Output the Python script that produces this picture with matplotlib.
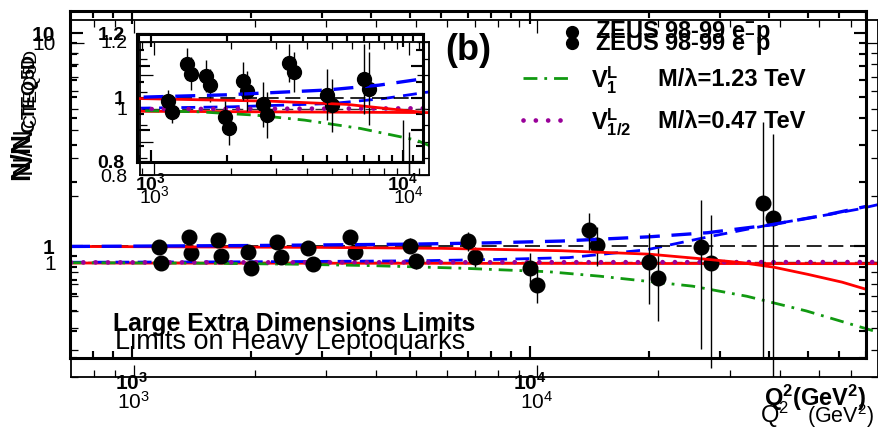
import matplotlib
matplotlib.use('Agg')
import matplotlib.pyplot as plt
import numpy as np
from matplotlib.ticker import FixedLocator, FixedFormatter, NullFormatter

plt.rcParams['font.family'] = ['Liberation Sans', 'DejaVu Sans']
plt.rcParams['mathtext.fontset'] = 'custom'
plt.rcParams['mathtext.rm'] = 'Liberation Sans'
plt.rcParams['mathtext.bf'] = 'Liberation Sans:bold'
plt.rcParams['mathtext.it'] = 'Liberation Sans:italic'
plt.rcParams['mathtext.sf'] = 'Liberation Sans'

# ---------------- data (ZEUS 98-99 e-p, ratio to CTEQ5D) ----------------
q2 = [1170, 1390, 1650, 1960, 2320, 2780, 3530, 5000, 7000, 10000, 14100, 19900, 27000, 38500]
ratio = [0.99, 1.105, 1.07, 0.94, 1.053, 0.98, 1.11, 1.01, 1.06, 0.79, 1.20, 0.85, 0.99, 1.59]
err_up = [0.035, 0.05, 0.05, 0.05, 0.06, 0.07, 0.06, 0.08, 0.11, 0.14, 0.24, 0.31, 0.66, 2.25]
err_dn = [0.035, 0.05, 0.05, 0.05, 0.06, 0.07, 0.06, 0.08, 0.11, 0.14, 0.24, 0.31, 0.66, 1.58]

# ---------------- theory curves, layer A (Large Extra Dimensions) ----------------
ref_q2 = [700, 70000]
ref_val = [1.0, 1.0]
red_a_q2 = [700, 3000, 6000, 12000, 20000, 28000, 34000, 41000, 50000, 61000, 70000]
red_a_val = [1.0, 0.99, 0.98, 0.955, 0.92, 0.87, 0.84, 0.80, 0.74, 0.68, 0.63]
blue_a_q2 = [700, 2000, 5000, 8000, 12000, 20000, 28000, 40000, 55000, 70000]
blue_a_val = [1.0, 1.01, 1.025, 1.04, 1.06, 1.11, 1.16, 1.26, 1.40, 1.54]

# ---------------- theory curves, layer B (Heavy Leptoquarks) ----------------
red_b_q2 = [700, 10000, 70000]
red_b_val = [0.992, 0.988, 0.985]
blue_b_q2 = [700, 2000, 5000, 8000, 12000, 18700, 26300, 38400, 50000, 62000, 70000]
blue_b_val = [1.0, 1.005, 1.015, 1.03, 1.05, 1.14, 1.30, 1.49, 1.62, 1.74, 1.83]
green_q2 = [700, 1500, 2500, 3900, 6450, 10700, 14300, 24300, 33100, 46500, 70000]
green_val = [0.995, 0.99, 0.98, 0.965, 0.94, 0.905, 0.864, 0.778, 0.70, 0.60, 0.48]
purple_q2 = [700, 70000]
purple_val = [0.998, 1.002]

legend_labels = [r"ZEUS 98-99 e$^{\mathbf{-}}$p", r"M/λ=1.23 TeV", r"M/λ=0.47 TeV"]

W, H = 879, 430
fig = plt.figure(figsize=(W / 100, H / 100), dpi=100)


def rect(l, t, r, b):
    return [l / W, 1 - b / H, (r - l) / W, (b - t) / H]


def style_axes(ax, lw, bold, pad_x, pad_y, fs):
    ax.set_facecolor('none')
    for s in ax.spines.values():
        s.set_linewidth(lw)
    ax.tick_params(which='both', direction='in', top=True, right=True, width=lw * 0.7)
    ax.tick_params(which='major', length=9)
    ax.tick_params(which='minor', length=5)
    ax.tick_params(axis='x', which='major', pad=pad_x)
    ax.tick_params(axis='y', which='major', pad=pad_y)
    for lab in ax.get_xticklabels() + ax.get_yticklabels():
        lab.set_fontsize(fs)
        lab.set_fontweight('bold' if bold else 'normal')


def pow_label(e, bold):
    return (r"$\mathbf{10^{%d}}$" % e) if bold else (r"$10^{%d}$" % e)


def draw_layer(main_px, inset_px, bold, lw, curves):
    ax = fig.add_axes(rect(*main_px))
    ax.set_xscale('log')
    ax.set_yscale('log')
    ax.set_xlim(700, 70000)
    ax.set_ylim(0.3, 12.7)
    ax.xaxis.set_major_locator(FixedLocator([1e3, 1e4]))
    ax.xaxis.set_major_formatter(FixedFormatter([pow_label(3, bold), pow_label(4, bold)]))
    ax.xaxis.set_minor_locator(FixedLocator([800, 900] + [k * 1000 for k in range(2, 10)] +
                                            [k * 10000 for k in range(2, 8)]))
    ax.xaxis.set_minor_formatter(NullFormatter())
    ax.yaxis.set_major_locator(FixedLocator([1, 10]))
    ax.yaxis.set_major_formatter(FixedFormatter(['1', '10']))
    ax.yaxis.set_minor_locator(FixedLocator([0.3, 0.4, 0.5, 0.6, 0.7, 0.8, 0.9] + list(range(2, 10))))
    ax.yaxis.set_minor_formatter(NullFormatter())
    style_axes(ax, lw, bold, 10, 11, 15)

    for (cx, cy, kw) in curves:
        ax.plot(cx, cy, **kw)
    ax.errorbar(q2, ratio, yerr=[err_dn, err_up], fmt='o', ms=10.5, color='black',
                ecolor='black', elinewidth=1.0, capsize=0, zorder=5)

    ins = fig.add_axes(rect(*inset_px))
    ins.set_xscale('log')
    ins.set_xlim(880, 12000)
    ins.set_ylim(0.8, 1.2)
    ins.xaxis.set_major_locator(FixedLocator([1e3, 1e4]))
    ins.xaxis.set_major_formatter(FixedFormatter([pow_label(3, bold), pow_label(4, bold)]))
    ins.xaxis.set_minor_locator(FixedLocator([900] + [k * 1000 for k in range(2, 10)] + [11000]))
    ins.xaxis.set_minor_formatter(NullFormatter())
    ins.yaxis.set_major_locator(FixedLocator([0.8, 0.9, 1.0, 1.1, 1.2]))
    ins.yaxis.set_major_formatter(FixedFormatter(['0.8', '', '1', '', '1.2']))
    ins.yaxis.set_minor_locator(FixedLocator([0.85, 0.95, 1.05, 1.15]))
    ins.yaxis.set_minor_formatter(NullFormatter())
    style_axes(ins, lw, bold, 7, 9, 14)
    for (cx, cy, kw) in curves:
        ins.plot(cx, cy, **kw)
    qa = np.array(q2)
    ra = np.array(ratio)
    sel = qa <= 12000
    inside = (ra >= 0.8) & (ra <= 1.2) & sel
    ins.errorbar(qa[sel], ra[sel],
                 yerr=[np.array(err_dn)[sel], np.array(err_up)[sel]],
                 fmt='none', ecolor='black', elinewidth=1.0, capsize=0, zorder=5)
    ins.plot(qa[inside], ra[inside], 'o', ms=10, color='black', zorder=6)
    return ax, ins


# layer B (normal weight, leptoquarks)
curves_b = [
    (ref_q2, ref_val, dict(color='#333333', lw=1.0, ls=(0, (8, 4)))),
    (red_b_q2, red_b_val, dict(color='#ff0000', lw=2.0)),
    (blue_b_q2, blue_b_val, dict(color='#0000ff', lw=2.0, ls=(0, (5, 3)))),
    (green_q2, green_val, dict(color='#119911', lw=2.0, ls=(0, (5, 2.5, 1, 2.5)))),
    (purple_q2, purple_val, dict(color='#990099', lw=3.4, ls=(0, (0.01, 2.6)),
                                 dash_capstyle='round')),
]
draw_layer((71, 20, 878, 377), (140, 42, 429, 175), False, 1.3, curves_b)

# layer A (bold, large extra dimensions)
curves_a = [
    (ref_q2, ref_val, dict(color='black', lw=1.2, ls=(0, (9, 4)))),
    (red_a_q2, red_a_val, dict(color='#ff0000', lw=2.0)),
    (blue_a_q2, blue_a_val, dict(color='#0000ff', lw=2.4, ls=(0, (6, 3.5)))),
]
draw_layer((70, 11, 866, 358), (137, 34, 423, 162), True, 2.2, curves_a)

# ---------------- overlay: legend and texts ----------------
ov = fig.add_axes([0, 0, 1, 1])
ov.set_xlim(0, W)
ov.set_ylim(H, 0)
ov.axis('off')

ov.text(445, 50, "(b)", fontsize=26, fontweight='bold', ha='left', va='center')
ov.plot([572], [32], 'o', ms=8.5, color='black')
ov.plot([572], [43], 'o', ms=8.5, color='black')
ov.text(595, 32, legend_labels[0], fontsize=17, fontweight='bold', va='center')
ov.text(595, 44, legend_labels[0], fontsize=17, fontweight='bold', va='center')
ov.plot([523, 570], [78, 78], color='#119911', lw=2.0, ls=(0, (5, 2.5, 1, 2.5)))
ov.plot([523, 570], [120, 120], color='#990099', lw=3.4, ls=(0, (0.01, 2.6)),
        dash_capstyle='round')
ov.text(591, 80, r"$\mathbf{V^{L}_{1}}$", fontsize=17, va='center')
ov.text(591, 122, r"$\mathbf{V^{L}_{1/2}}$", fontsize=17, va='center')
ov.text(658, 80, legend_labels[1], fontsize=17, fontweight='bold', va='center')
ov.text(658, 122, legend_labels[2], fontsize=17, fontweight='bold', va='center')

ov.text(113, 324, "Large Extra Dimensions Limits", fontsize=17.8, fontweight='bold', va='center')
ov.text(115, 342, "Limits on Heavy Leptoquarks", fontsize=19.5, va='center')

ov.text(866, 398, r"Q$^{\mathbf{2}}$(GeV$^{\mathbf{2}}$)", fontsize=17, fontweight='bold',
        ha='right', va='center')
ov.text(760, 415, r"Q$^{2}$", fontsize=17, ha='left', va='center')
ov.text(874, 416, r"(GeV$^{2}$)", fontsize=15.5, ha='right', va='center')

ov.text(26, 118, r"$\mathbf{N/N_{CTEQ5D}}$", fontsize=20, rotation=90, ha='center', va='center')
ov.text(28, 113, r"$\mathrm{N/N_{CTEQ5D}}$", fontsize=20, rotation=90, ha='center', va='center')

fig.savefig('out.png', dpi=100)
